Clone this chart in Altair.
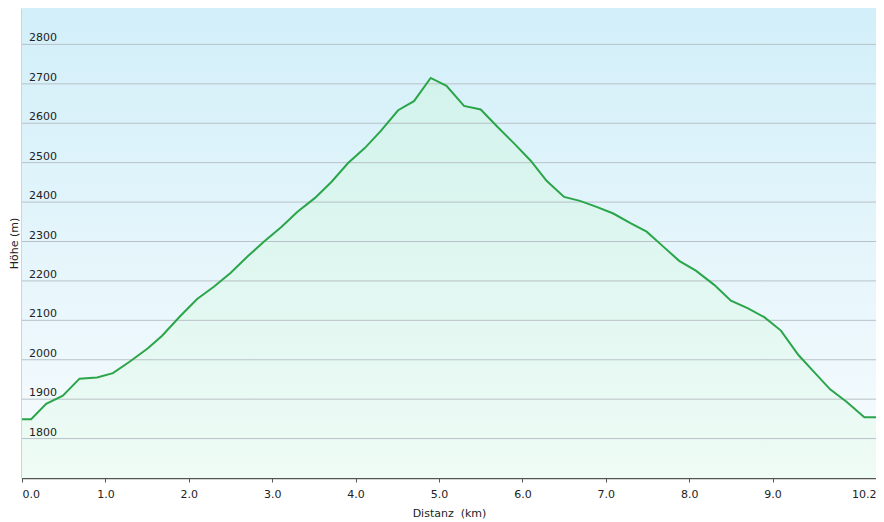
import altair as alt
import pandas as pd

# Elevation profile data (distance in km, elevation in m)
DIST_KM = [0.00, 0.11, 0.29, 0.49, 0.69, 0.90, 1.09, 1.29, 1.51, 1.68,
           1.89, 2.10, 2.30, 2.50, 2.71, 2.91, 3.11, 3.30, 3.51, 3.71,
           3.91, 4.11, 4.30, 4.51, 4.70, 4.90, 5.09, 5.30, 5.50, 5.70,
           5.90, 6.10, 6.29, 6.50, 6.69, 6.89, 7.09, 7.29, 7.49, 7.69,
           7.88, 8.08, 8.30, 8.50, 8.70, 8.90, 9.10, 9.31, 9.51, 9.69,
           9.89, 10.10, 10.24]
HOEHE_M = [1849, 1849, 1888, 1909, 1952, 1955, 1966, 1995, 2029, 2061,
           2109, 2154, 2185, 2220, 2263, 2301, 2337, 2375, 2410, 2451,
           2499, 2537, 2580, 2633, 2656, 2715, 2695, 2644, 2635, 2591,
           2549, 2505, 2454, 2413, 2403, 2388, 2371, 2347, 2325, 2287,
           2251, 2226, 2190, 2150, 2131, 2108, 2074, 2012, 1966, 1925,
           1893, 1854, 1854]

Y_TICKS = [1800, 1900, 2000, 2100, 2200, 2300, 2400, 2500, 2600, 2700, 2800]
X_TICKS = [0, 1, 2, 3, 4, 5, 6, 7, 8, 9, 10.24]
X_MAX = 10.24
Y_MIN, Y_MAX = 1700, 2892.4

W, H = 854, 470
FONT = "DejaVu Sans"

df = pd.DataFrame({"km": DIST_KM, "m": HOEHE_M})
grid_df = pd.DataFrame({"m": Y_TICKS})

x_enc = alt.X(
    "km:Q",
    title="Distanz\u00a0 (km)",
    scale=alt.Scale(domain=[0, X_MAX], nice=False, zero=False),
    axis=alt.Axis(values=X_TICKS, format=".1f", labelFlush=True, grid=False,
                  tickSize=4, tickColor="#555555", labelPadding=6,
                  titleY=29, titleBaseline="top"),
)
y_enc = alt.Y(
    "m:Q",
    title="Höhe (m)",
    scale=alt.Scale(domain=[Y_MIN, Y_MAX], nice=False, zero=False),
    axis=alt.Axis(values=Y_TICKS, grid=False, ticks=False, labels=False,
                  titleX=-5, titleY=H / 2, titleAngle=270,
                  titleBaseline="alphabetic"),
)

bg_grad = alt.Gradient(
    gradient="linear", x1=0, x2=0, y1=0, y2=1,
    stops=[alt.GradientStop(color="#d2eff9", offset=0),
           alt.GradientStop(color="#e4f5fb", offset=0.5),
           alt.GradientStop(color="#f8fcfe", offset=1)],
)
area_grad = alt.Gradient(
    gradient="linear", x1=0, x2=0, y1=0, y2=1,
    stops=[alt.GradientStop(color="#d2f3ec", offset=0),
           alt.GradientStop(color="#effbf5", offset=1)],
)

bg = alt.Chart(alt.Data(values=[{"a": 1}])).mark_rect(color=bg_grad).encode(
    x=alt.value(0), x2=alt.value("width"), y=alt.value(0), y2=alt.value("height")
)

area = alt.Chart(df).mark_area(color=area_grad).encode(
    x=x_enc, y=y_enc, y2=alt.datum(Y_MIN)
)

rules = alt.Chart(grid_df).mark_rule(color="#b8c2c6", strokeWidth=1).encode(y=y_enc)

line = alt.Chart(df).mark_line(color="#2ba54a", strokeWidth=2).encode(x=x_enc, y=y_enc)

ylabels = alt.Chart(grid_df).mark_text(
    align="left", baseline="alphabetic", dx=7, dy=-3,
    font=FONT, fontSize=11, color="#222222",
).encode(x=alt.value(0), y=y_enc, text=alt.Text("m:Q", format="d"))

chart = alt.layer(bg, area, rules, line, ylabels).properties(
    width=W, height=H,
    autosize="none",
    padding={"left": 14, "top": 0, "right": 0, "bottom": 44},
).configure_view(
    stroke="#b0b0b0", strokeWidth=1
).configure_axis(
    labelFont=FONT, labelFontSize=11, labelColor="#222222",
    titleFont=FONT, titleFontSize=11, titleFontWeight="normal", titleColor="#222222",
    domainColor="#555555", domainWidth=1.5, zindex=1,
)

chart.save("out.html", embed_options={"renderer": "svg", "actions": False})
